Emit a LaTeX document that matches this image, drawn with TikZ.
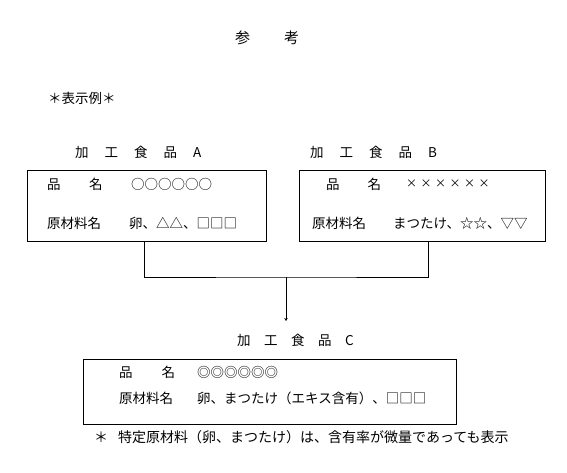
\documentclass[tikz,border=0pt]{standalone}
\usepackage{fontspec}
\setmainfont{Noto Sans CJK JP}
\usepackage{tikz}
\usetikzlibrary{arrows.meta,calc,positioning}
\newcommand{\kgap}[1][16pt]{\hspace{#1}}

\begin{document}
\begin{tikzpicture}[x=1pt,y=-1pt,
		labelbox/.style={draw,line width=0.8pt,minimum width=#1,inner sep=0pt},
		entry/.style={anchor=west,inner sep=0pt,font=\fontsize{13.5}{15}\selectfont},
		link/.style={line width=0.8pt},
		linkarrow/.style={line width=0.8pt,-{Stealth[length=3pt,width=3.5pt]}}]
	\useasboundingbox (0,0) rectangle (567,472);
	
	% Title and heading.
	\node[entry,font=\fontsize{15}{17}\selectfont] (title) at (235,38) {参\kgap[34pt]考};
	\node[entry] (example) at (48,98) {＊表示例＊};
	
	% The two source products.
	\node[entry] (headA) at (75,152) {加\kgap 工\kgap 食\kgap 品\kgap A};
	\node[entry] (headB) at (310,152) {加\kgap 工\kgap 食\kgap 品\kgap B};
	\node[labelbox=239pt,minimum height=71pt] (boxA) at (146.5,205.5) {};
	\node[labelbox=246pt,minimum height=71pt] (boxB) at (422,205.5) {};
	
	\node[entry] (nameA) at (47,184) {品\kgap[28.5pt]名};
	\node[entry] (nameAval) at (131,184) {○○○○○○};
	\node[entry] (rawA) at (47,223) {原材料名};
	\node[entry] (rawAval) at (129,223) {卵、△△、□□□};
	
	\node[entry] (nameB) at (326,184) {品\kgap[28pt]名};
	\node[entry,font=\fontsize{11}{15}\selectfont] (nameBval) at (406,184)
		{×\kgap[3.5pt]×\kgap[3.5pt]×\kgap[3.5pt]×\kgap[3.5pt]×\kgap[3.5pt]×};
	\node[entry] (rawB) at (312,223) {原材料名};
	\node[entry] (rawBval) at (393,223) {まつたけ、☆☆、▽▽};
	
	% Merging connector into product C.
	\coordinate (join) at (286,277);
	\coordinate (tipC) at (286,321);
	\draw[link] ([xshift=-2.5pt]boxA.south) |- (join) -| ([xshift=6pt]boxB.south);
	\draw[linkarrow] (join) -- (tipC);
	
	% The processed product.
	\node[entry] (headC) at (237,340) {加\kgap[13.5pt]工\kgap[13.5pt]食\kgap[13.5pt]品\kgap[13.5pt]C};
	\node[labelbox=373pt,minimum height=65pt] (boxC) at (269.5,391.5) {};
	\node[entry] (nameC) at (119,372) {品\kgap[29pt]名};
	\node[entry] (nameCval) at (197,372) {◎◎◎◎◎◎};
	\node[entry] (rawC) at (119,398) {原材料名};
	\node[entry] (rawCval) at (197,398) {卵、まつたけ（エキス含有）、□□□};
	
	% Footnote.
	\node[entry,font=\fontsize{14}{16}\selectfont] (note) at (94,437)
		{＊\kgap[10pt]特定原材料（卵、まつたけ）は、含有率が微量であっても表示};
\end{tikzpicture}
\end{document}
